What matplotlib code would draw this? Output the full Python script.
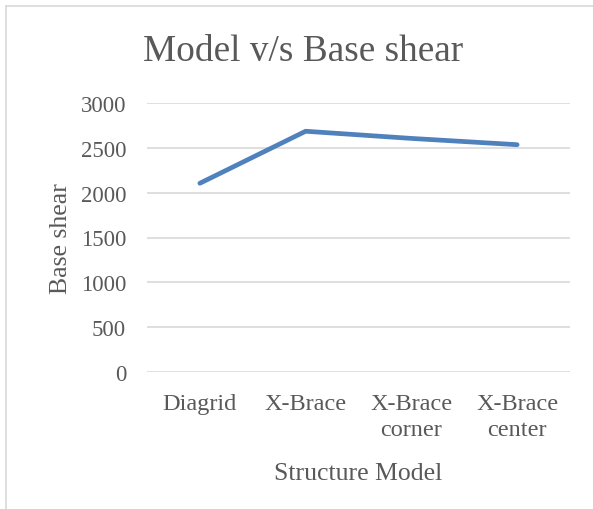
import matplotlib.pyplot as plt
from matplotlib.lines import Line2D

plt.rcParams['font.family'] = ['Liberation Serif', 'DejaVu Serif']

models = ['Diagrid', 'X-Brace', 'X-Brace\ncorner', 'X-Brace\ncenter']
base_shear = [2105, 2685, 2605, 2535]
yticks = [0, 500, 1000, 1500, 2000, 2500, 3000]

W, H = 593, 510
fig = plt.figure(figsize=(W / 100, H / 100), dpi=100)
ax = fig.add_axes([147 / W, 1 - 373 / H, 423 / W, 269 / H])

txt = '#595959'
grid = '#D9D9D9'

# chart area border (left and top edges visible)
fig.add_artist(Line2D([6 / W, 6 / W], [0, 1 - 7 / H], color=grid, lw=1.2,
                      transform=fig.transFigure))
fig.add_artist(Line2D([6 / W, 1], [1 - 7 / H, 1 - 7 / H], color=grid, lw=1.2,
                      transform=fig.transFigure))

ax.plot(range(len(models)), base_shear, color='#4F81BD', lw=3.4,
        solid_capstyle='round', solid_joinstyle='round', zorder=3)

ax.set_xlim(-0.5, len(models) - 0.5)
ax.set_ylim(0, 3000)
ax.set_yticks(yticks)
ax.set_xticks(range(len(models)))
ax.set_xticklabels(models, linespacing=1.3, fontsize=17.5)
ax.yaxis.grid(True, color=grid, lw=1.2)
ax.set_axisbelow(True)
for s in ax.spines.values():
    s.set_visible(False)
ax.tick_params(length=0, colors=txt)
ax.tick_params(axis='y', pad=15, labelsize=16.5)
ax.tick_params(axis='x', pad=15)

ax.set_xlabel('Structure Model', fontsize=18.5, color=txt, labelpad=16)
ax.set_ylabel('Base shear', fontsize=18.5, color=txt, labelpad=6)
fig.text(303 / W, 1 - 52 / H, 'Model v/s Base shear', fontsize=26.8, color=txt,
         ha='center', va='center')

fig.savefig('out.png', dpi=100)
